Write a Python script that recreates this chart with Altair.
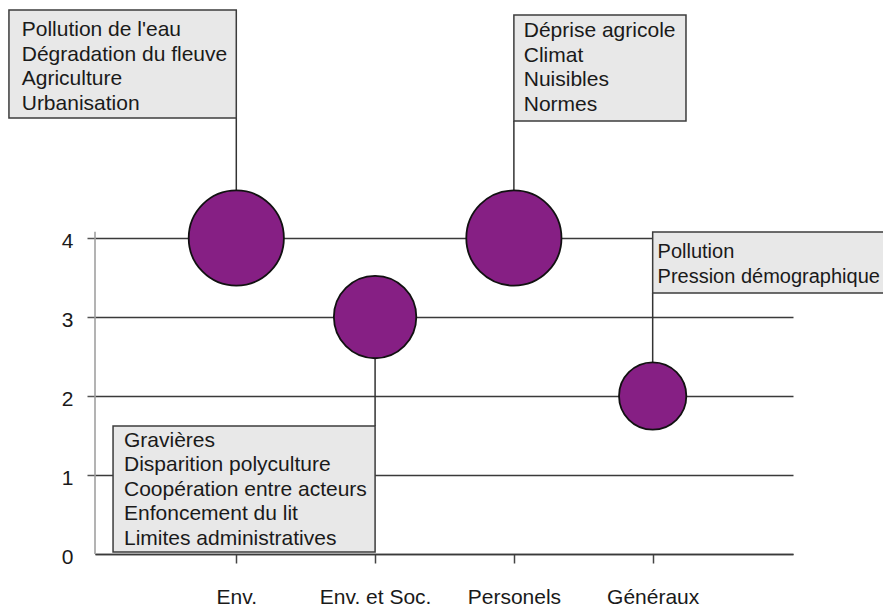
import json
import altair as alt
import pandas as pd

# ---- data -------------------------------------------------------------
categories = ["Env.", "Env. et Soc.", "Personels", "Généraux"]
cat_pos = [1, 2, 3, 4]
scores = [4, 3, 4, 2]
bubble_sizes = [4, 3, 4, 2]

ann_lines = [
    ["Pollution de l'eau", "Dégradation du fleuve", "Agriculture", "Urbanisation"],
    ["Gravières", "Disparition polyculture", "Coopération entre acteurs",
     "Enfoncement du lit", "Limites administratives"],
    ["Déprise agricole", "Climat", "Nuisibles", "Normes"],
    ["Pollution", "Pression démographique"],
]
ann_anchor = [1, 2, 3, 4]          # category position each note points to
ann_score = [4, 3, 4, 2]           # bubble it points to
ann_left = [-0.638, 0.112, 3.0, 4.0]
ann_right = [1.0, 2.0, 4.24, 6.0]
ann_top = [6.887, 1.62, 6.824, 4.076]
ann_bottom = [5.52, 0.025, 5.482, 3.304]
ann_link = [5.52, 1.62, 5.482, 3.304]   # box edge where the leader line ends
ann_text_x = [-0.546, 0.191, 3.071, 4.035]
ann_text_y = [6.558, 1.355, 6.545, 3.747]
ann_font = [21, 21, 21, 20]

yaxis_top = 4.08

# ---- tables -----------------------------------------------------------
points = pd.DataFrame({"name": categories, "x": cat_pos, "y": scores, "size": bubble_sizes})
notes = pd.DataFrame({
    "text": ["\n".join(l) for l in ann_lines],
    "anchor": ann_anchor, "score": ann_score,
    "left": ann_left, "right": ann_right, "top": ann_top, "bottom": ann_bottom,
    "link": ann_link, "tx": ann_text_x, "ty": ann_text_y, "fs": ann_font,
})
yline = pd.DataFrame({"y0": [0], "y1": [yaxis_top]})

FONT = "Liberation Sans"
xscale = alt.Scale(domain=[-0.018, 5.011], nice=False, zero=False)
yscale = alt.Scale(domain=[0, 6.9], nice=False)

label_expr = json.dumps(categories) + "[datum.value - 1]"

x_axis = alt.Axis(values=cat_pos, labelExpr=label_expr, grid=False, title=None,
                  domainColor="#3a3a3a", domainWidth=1.5, tickColor="#444444",
                  tickSize=9, tickWidth=1.5, labelPadding=23, labelFontSize=21,
                  labelFont=FONT, labelColor="#1a1a1a")
y_axis = alt.Axis(values=[0, 1, 2, 3, 4], grid=True, gridColor="#3a3a3a", gridWidth=1.5,
                  domain=False, tickColor="#555555", tickSize=8, tickWidth=1.5,
                  tickOpacity={"condition": {"test": "datum.value === 0", "value": 0}, "value": 1},
                  labelPadding=14, labelFontSize=21, labelFont=FONT, labelColor="#1a1a1a",
                  labelOffset=3, title=None)

axis_line = alt.Chart(yline).mark_rule(color="#9a9a9a", strokeWidth=1.5).encode(
    x=alt.value(0),
    y=alt.Y("y0:Q", scale=yscale, axis=y_axis),
    y2="y1:Q",
)

leaders = alt.Chart(notes).mark_rule(color="#333333", strokeWidth=1.5).encode(
    x=alt.X("anchor:Q", scale=xscale, axis=x_axis),
    y=alt.Y("score:Q", scale=yscale, axis=y_axis),
    y2="link:Q",
)

boxes = alt.Chart(notes).mark_rect(fill="#e8e8e8", stroke="#3c3c3c", strokeWidth=1.5).encode(
    x=alt.X("left:Q", scale=xscale, axis=x_axis),
    x2="right:Q",
    y=alt.Y("top:Q", scale=yscale, axis=y_axis),
    y2="bottom:Q",
)

texts = alt.Chart(notes).mark_text(
    align="left", baseline="alphabetic", lineHeight=24.5,
    font=FONT, color="#1a1a1a", lineBreak="\n",
).encode(
    x=alt.X("tx:Q", scale=xscale, axis=x_axis),
    y=alt.Y("ty:Q", scale=yscale, axis=y_axis),
    size=alt.Size("fs:Q", scale=None, legend=None),
    text="text:N",
)

bubbles = alt.Chart(points).mark_circle(
    opacity=1, fill="#861f84", stroke="#111111", strokeWidth=1.8
).encode(
    x=alt.X("x:Q", scale=xscale, axis=x_axis),
    y=alt.Y("y:Q", scale=yscale, axis=y_axis),
    size=alt.Size("size:Q", scale=alt.Scale(domain=[0, 4], range=[0, 9060]), legend=None),
)

chart = alt.layer(axis_line, leaders, boxes, texts, bubbles).resolve_scale(size="independent").properties(
    width=698, height=545,
    autosize=alt.AutoSizeParams(type="none"),
    padding={"left": 87, "top": 1, "right": 90, "bottom": 54},
    background="white",
).configure_view(stroke=None)

chart.save("out.html", embed_options={"renderer": "svg", "actions": False})
